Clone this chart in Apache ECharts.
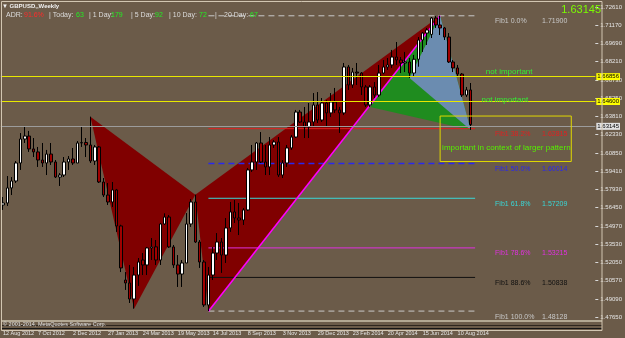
<!DOCTYPE html>
<html><head><meta charset="utf-8">
<script src="https://cdn.jsdelivr.net/npm/echarts@6/dist/echarts.min.js"></script>
<style>html,body{margin:0;padding:0;background:#6b5b49;}#c{width:625px;height:338px;}</style>
</head><body><div id="c"></div>
<script>
// ---- categories (weekly bars) ----
const weekCount = 136;
const firstWeekUTC = Date.UTC(2012, 7, 12);
const monthNames = ['Jan','Feb','Mar','Apr','May','Jun','Jul','Aug','Sep','Oct','Nov','Dec'];
const weeks = [];
for (let i = 0; i < weekCount; i++) {
  const d = new Date(firstWeekUTC + i * 7 * 86400000);
  weeks.push(d.getUTCDate() + ' ' + monthNames[d.getUTCMonth()] + ' ' + d.getUTCFullYear());
}
const tickLabels = ['12 Aug 2012','7 Oct 2012','2 Dec 2012','27 Jan 2013','24 Mar 2013','19 May 2013','14 Jul 2013','8 Sep 2013','3 Nov 2013','29 Dec 2013','23 Feb 2014','20 Apr 2014','15 Jun 2014','10 Aug 2014'];
const priceTicks = [1.47650,1.49090,1.50570,1.52050,1.53530,1.54970,1.56450,1.57930,1.59410,1.60850,1.62330,1.63810,1.65250,1.66730,1.68210,1.69690,1.71170,1.72610];

// ---- GBPUSD weekly OHLC ----
const opens = [1.5667,1.5683,1.5804,1.5860,1.6005,1.6198,1.6222,1.6118,1.6094,1.6029,
1.6005,1.6077,1.6013,1.5892,1.5908,1.6013,1.6037,1.6005,1.6166,1.6170,
1.6150,1.6021,1.6134,1.5852,1.5747,1.5691,1.5788,1.5498,1.5063,1.5039,
1.4910,1.5103,1.5224,1.5184,1.5321,1.5330,1.5224,1.5514,1.5570,1.5329,
1.5184,1.5111,1.5200,1.5514,1.5691,1.5369,1.5208,1.4862,1.5103,1.5280,
1.5369,1.5264,1.5482,1.5611,1.5562,1.5546,1.5627,1.5949,1.6013,1.6166,
1.6013,1.5973,1.6150,1.6174,1.5908,1.6005,1.6126,1.6214,1.6415,1.6335,
1.6295,1.6335,1.6472,1.6351,1.6488,1.6408,1.6496,1.6432,1.6408,1.6778,
1.6633,1.6737,1.6729,1.6617,1.6472,1.6617,1.6552,1.6729,1.6778,1.6794,
1.6858,1.6834,1.6810,1.6818,1.6729,1.6840,1.6995,1.7051,1.7040,1.7172,
1.7116,1.7092,1.7019,1.6818,1.6770,1.6721,1.6552,1.6593];
const closes = [1.5683,1.5804,1.5860,1.6005,1.6198,1.6222,1.6118,1.6094,1.6029,1.6005,
1.6077,1.6013,1.5892,1.5908,1.6013,1.6037,1.6005,1.6166,1.6170,1.6150,
1.6021,1.6134,1.5852,1.5747,1.5691,1.5788,1.5498,1.5160,1.5039,1.4910,
1.5103,1.5208,1.5184,1.5321,1.5330,1.5224,1.5514,1.5570,1.5329,1.5184,
1.5111,1.5200,1.5514,1.5691,1.5369,1.5208,1.4862,1.5103,1.5280,1.5369,
1.5264,1.5482,1.5611,1.5562,1.5546,1.5627,1.5949,1.6013,1.6166,1.6013,
1.5973,1.6150,1.6174,1.5908,1.6005,1.6126,1.6214,1.6415,1.6335,1.6295,
1.6335,1.6472,1.6351,1.6488,1.6408,1.6496,1.6432,1.6408,1.6778,1.6633,
1.6737,1.6729,1.6617,1.6472,1.6617,1.6552,1.6729,1.6778,1.6794,1.6858,
1.6834,1.6810,1.6818,1.6729,1.6840,1.6995,1.7051,1.7076,1.7172,1.7116,
1.7092,1.7019,1.6818,1.6770,1.6721,1.6552,1.6593,1.63145];
const lows = [1.5627,1.5659,1.5747,1.5844,1.5949,1.6166,1.6094,1.6053,1.5973,1.5973,
1.5908,1.5989,1.5884,1.5820,1.5892,1.5949,1.5989,1.6005,1.6134,1.6053,
1.6005,1.5989,1.5844,1.5731,1.5667,1.5651,1.5450,1.5127,1.4983,1.4878,
1.4832,1.5015,1.5103,1.5103,1.5224,1.5184,1.5184,1.5506,1.5321,1.5160,
1.5007,1.5007,1.5200,1.5490,1.5361,1.5160,1.4846,1.4812,1.5063,1.5224,
1.5120,1.5200,1.5450,1.5522,1.5425,1.5506,1.5619,1.5933,1.5949,1.6005,
1.5908,1.5908,1.6126,1.5892,1.5884,1.5973,1.6110,1.6206,1.6327,1.6206,
1.6206,1.6295,1.6327,1.6335,1.6295,1.6375,1.6408,1.6247,1.6391,1.6593,
1.6609,1.6633,1.6552,1.6456,1.6456,1.6528,1.6536,1.6720,1.6754,1.6770,
1.6794,1.6729,1.6737,1.6689,1.6700,1.6780,1.6899,1.6955,1.7011,1.7092,
1.7035,1.6995,1.6810,1.6737,1.6700,1.6536,1.6536,1.6271];
const highs = [1.5731,1.5900,1.5892,1.6021,1.6246,1.6303,1.6263,1.6206,1.6134,1.6166,
1.6110,1.6166,1.6029,1.5924,1.6053,1.6061,1.6126,1.6182,1.6295,1.6206,
1.6378,1.6150,1.6142,1.5884,1.5844,1.5852,1.5796,1.5508,1.5127,1.5184,
1.5168,1.5240,1.5280,1.5329,1.5401,1.5385,1.5522,1.5600,1.5586,1.5345,
1.5264,1.5224,1.5602,1.5715,1.5750,1.5385,1.5224,1.5168,1.5329,1.5441,
1.5401,1.5562,1.5691,1.5707,1.5683,1.5643,1.5965,1.6150,1.6174,1.6254,
1.6150,1.6214,1.6190,1.6214,1.6029,1.6150,1.6230,1.6432,1.6432,1.6456,
1.6488,1.6568,1.6576,1.6528,1.6512,1.6568,1.6609,1.6456,1.6810,1.6794,
1.6770,1.6810,1.6737,1.6633,1.6633,1.6657,1.6794,1.6834,1.6850,1.6915,
1.6979,1.6858,1.6899,1.6850,1.6875,1.7019,1.7059,1.7092,1.7180,1.7188,
1.7191,1.7100,1.7051,1.6834,1.6794,1.6729,1.6617,1.6649];

// ---- harmonic pattern pivots (bar index, price) ----
const bigPivotBars   = [20, 30, 44, 47, 100];            // X A B C D
const bigPivotPrices = [1.6378, 1.4832, 1.5750, 1.4812, 1.7191];
const smallPivotBars   = [84, 93, 100, 107];
const smallPivotPrices = [1.6456, 1.6689, 1.7191, 1.6271];

// ---- fibonacci ----
const fibStartBar = 47, fibEndBar = 108;
const fibNames  = ['Fib1 0.0%','Fib1 38.2%','Fib1 50.0%','Fib1 61.8%','Fib1 78.6%','Fib1 88.6%','Fib1 100.0%'];
const fibPrices = [1.71900, 1.62815, 1.60014, 1.57209, 1.53215, 1.50838, 1.48128];
const fibColors = ['#c8c8c8','#e02020','#2828f0','#38d8d8','#e030e0','#101010','#c8c8c8'];
const fibDashed = [true, false, true, false, false, false, true];

// ---- horizontal lines ----
const hLinePrices = [1.66856, 1.64600, 1.63145];
const hLineColors = ['#e8e800', '#e8e800', '#9c9c9c'];
const hLabelBg    = ['#ffff00', '#ffff00', '#e0e0e0'];

// ---- notes ----
const noteTexts  = ['not important', 'not important', 'important in context of larger pattern'];
const noteBars   = [110, 109, 100];
const notePrices = [1.66856, 1.64600, 1.6126];
const boxBars = [100, 130], boxPrices = [1.6383, 1.6017];

const candleData = opens.map((o, i) => [o, closes[i], lows[i], highs[i]]);
const pt = (bars, prices, i) => [bars[i], prices[i]];
const polyData = [
  [...pt(bigPivotBars,bigPivotPrices,0), ...pt(bigPivotBars,bigPivotPrices,1), ...pt(bigPivotBars,bigPivotPrices,2)],
  [...pt(bigPivotBars,bigPivotPrices,2), ...pt(bigPivotBars,bigPivotPrices,3), ...pt(bigPivotBars,bigPivotPrices,4)],
  [...pt(smallPivotBars,smallPivotPrices,0), ...pt(smallPivotBars,smallPivotPrices,2), ...pt(smallPivotBars,smallPivotPrices,3)],
  [...pt(smallPivotBars,smallPivotPrices,1), ...pt(smallPivotBars,smallPivotPrices,2), ...pt(smallPivotBars,smallPivotPrices,3)]
];
const polyColors = ['#800000', '#800000', '#1f8c1f', '#6b8cb0'];
const trendData = [[bigPivotBars[3], bigPivotPrices[3], bigPivotBars[4], bigPivotPrices[4]]];
const fibData = fibPrices.map((p, i) => [fibStartBar, fibEndBar, p, i]);
const noteData = noteTexts.map((t, i) => [noteBars[i], notePrices[i], i]);
const noteDy = [-6.5, -6.5, 0];

const FONT = 'Liberation Sans';
const chart = echarts.init(document.getElementById('c'), null, {renderer: 'canvas'});

const headerItems = [
  ['ADR:', 6, '#dcdcdc'], ['91.6%', 24, '#ff2a2a'], ['| Today:', 49, '#dcdcdc'], ['63', 76, '#22ee22'],
  ['| 1 Day:', 89, '#dcdcdc'], ['179', 111, '#22ee22'], ['| 5 Day:', 131, '#dcdcdc'], ['92', 155, '#22ee22'],
  ['| 10 Day:', 169, '#dcdcdc'], ['72', 199, '#22ee22'], ['|', 215, '#dcdcdc'], ['20 Day:', 224, '#dcdcdc'], ['67', 250, '#22ee22']
];

const option = {
  backgroundColor: '#6b5b49',
  animation: false,
  grid: {left: 0, right: 23, top: 2, bottom: 18},
  xAxis: {
    type: 'category', data: weeks, boundaryGap: true,
    axisLine: {show: false}, axisTick: {show: false}, splitLine: {show: false},
    axisLabel: {interval: (i, v) => tickLabels.includes(v), color: '#e6e6e6', fontSize: 5.5,
      fontFamily: FONT, align: 'left', margin: 10}
  },
  yAxis: {
    type: 'value', position: 'right', min: 1.4741, max: 1.7301,
    splitLine: {show: false}, axisLine: {show: false},
    axisTick: {show: true, length: 3, customValues: priceTicks, lineStyle: {color: '#d8d8d8'}},
    axisLabel: {customValues: priceTicks, color: '#e6e6e6', fontSize: 6, fontFamily: FONT, margin: 5,
      formatter: v => v.toFixed(5)}
  },
  series: [
    {
      type: 'custom', z: 1, silent: true, data: polyData,
      encode: {x: [0, 2, 4], y: [1, 3, 5]},
      renderItem: (params, api) => ({
        type: 'polygon',
        shape: {points: [0, 2, 4].map(k => api.coord([api.value(k), api.value(k + 1)]))},
        style: {fill: polyColors[params.dataIndex]}
      })
    },
    {
      type: 'custom', z: 2, silent: true, data: fibData,
      encode: {x: [0, 1], y: 2},
      renderItem: (params, api) => {
        const i = api.value(3);
        const a = api.coord([api.value(0), api.value(2)]);
        const b = api.coord([api.value(1), api.value(2)]);
        return {type: 'group', children: [
          {type: 'line', shape: {x1: a[0], y1: a[1], x2: b[0], y2: b[1]},
           style: {stroke: fibColors[i], lineWidth: i === 2 ? 1.5 : 1, lineDash: fibDashed[i] ? [6, 4] : null}},
          {type: 'text', x: b[0] + 20, y: b[1] + 5.5,
           style: {text: fibNames[i], fill: fibColors[i], font: '7px ' + FONT, textVerticalAlign: 'middle'}},
          {type: 'text', x: b[0] + 67, y: b[1] + 5.5,
           style: {text: fibPrices[i].toFixed(5), fill: fibColors[i], font: '7px ' + FONT, textVerticalAlign: 'middle'}}
        ]};
      }
    },
    {
      type: 'custom', z: 3, silent: true, data: trendData,
      encode: {x: [0, 2], y: [1, 3]},
      renderItem: (params, api) => {
        const a = api.coord([api.value(0), api.value(1)]);
        const b = api.coord([api.value(2), api.value(3)]);
        return {type: 'line', shape: {x1: a[0], y1: a[1], x2: b[0], y2: b[1]},
                style: {stroke: '#ff00ff', lineWidth: 1.5}};
      }
    },
    {
      type: 'candlestick', z: 4, data: candleData, barWidth: 3,
      itemStyle: {color: '#ffffff', color0: '#a00000', borderColor: '#000000', borderColor0: '#000000', borderWidth: 1},
      markLine: {
        symbol: 'none', silent: true, animation: false,
        data: hLinePrices.map((p, i) => ({
          yAxis: p,
          lineStyle: {color: hLineColors[i], width: 1, type: 'solid'},
          label: {show: true, position: 'end', distance: 1, formatter: p.toFixed(5),
            backgroundColor: hLabelBg[i], color: '#000', fontSize: 6, fontFamily: FONT, padding: [1, 1, 0, 1]}
        }))
      }
    },
    {
      type: 'custom', z: 5, silent: true, data: [[boxBars[0], boxPrices[0], boxBars[1], boxPrices[1]]],
      encode: {x: [0, 2], y: [1, 3]},
      renderItem: (params, api) => {
        const a = api.coord([api.value(0), api.value(1)]);
        const b = api.coord([api.value(2), api.value(3)]);
        return {type: 'rect', shape: {x: a[0], y: a[1], width: b[0] - a[0], height: b[1] - a[1]},
                style: {fill: 'none', stroke: '#e0d800', lineWidth: 1}};
      }
    },
    {
      type: 'custom', z: 6, silent: true, data: noteData,
      encode: {x: 0, y: 1},
      renderItem: (params, api) => {
        const i = api.value(2);
        const a = api.coord([api.value(0), api.value(1)]);
        return {type: 'text', x: a[0] + 2, y: a[1] + noteDy[i],
                style: {text: noteTexts[i], fill: i === 2 ? '#55f000' : '#33ee33', font: '8px ' + FONT, textVerticalAlign: 'middle'}};
      }
    }
  ],
  graphic: [
    {type: 'rect', z: 100, silent: true, shape: {x: 1.5, y: 1.5, width: 600.5, height: 329},
     style: {fill: 'none', stroke: '#d2c6b2', lineWidth: 1}},
    {type: 'rect', z: 99, silent: true, shape: {x: 1.5, y: 320, width: 600.5, height: 2}, style: {fill: '#b3a893'}},
    {type: 'line', z: 99, silent: true, shape: {x1: 2, y1: 325.5, x2: 602, y2: 325.5}, style: {stroke: '#2e261e', lineWidth: 1}},
    {type: 'line', z: 99, silent: true, shape: {x1: 2, y1: 328.5, x2: 602, y2: 328.5}, style: {stroke: '#151515', lineWidth: 1}},
    {type: 'text', z: 101, silent: true, x: 3, y: 324, style: {text: '\u00a9 2001-2014, MetaQuotes Software Corp.', fill: '#e0e0e0', font: '5.5px ' + FONT, textVerticalAlign: 'middle'}},
    {type: 'text', z: 101, silent: true, x: 2, y: 6, style: {text: '\u25bc GBPUSD,,Weekly', fill: '#f0f0f0', font: 'bold 6px ' + FONT, textVerticalAlign: 'middle'}},
    ...headerItems.map(h => ({type: 'text', z: 101, silent: true, x: h[1], y: 15,
      style: {text: h[0], fill: h[2], font: '7px ' + FONT, textVerticalAlign: 'middle'}})),
    {type: 'text', z: 101, silent: true, x: 601, y: 10, style: {text: closes[closes.length - 1].toFixed(5), fill: '#7cfc00', font: '11px ' + FONT, textAlign: 'right', textVerticalAlign: 'middle'}}
  ]
};
chart.setOption(option);
</script>
</body></html>
